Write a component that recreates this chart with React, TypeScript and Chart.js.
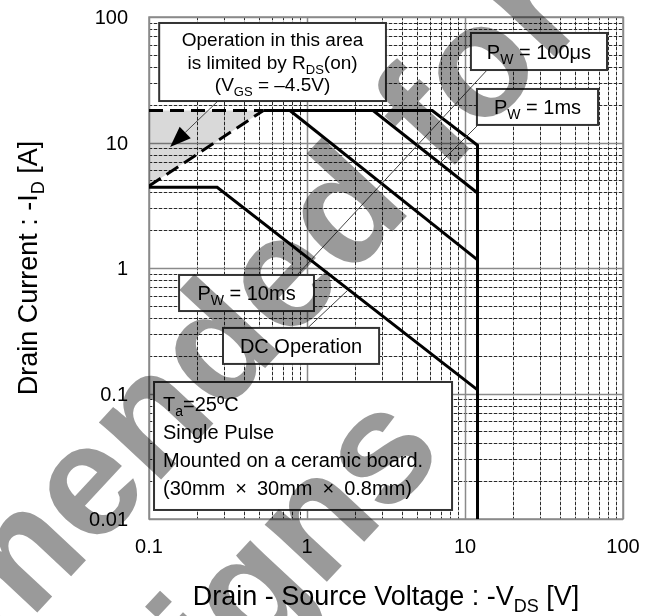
import React, { useEffect, useRef } from 'react';
import { Chart, registerables } from 'chart.js';

Chart.register(...registerables);

const FONT = "'Liberation Sans', Arial, Helvetica, sans-serif";

// ---- Data: drain-source voltage -VDS [V] vs drain current -ID [A] ----
const rdsLimitV = [0.1, 0.53];
const rdsLimitI = [4.5, 18];
const idPulseLimitV = [0.1, 0.53];
const idPulseLimitI = [18, 18];
const rdsAreaV = [0.1, 0.53, 0.1];
const rdsAreaI = [4.5, 18, 18];
const pw100usV = [0.53, 6.2, 12, 12];
const pw100usI = [18, 18, 9.5, 0.01];
const pw1msV = [2.62, 12];
const pw1msI = [18, 3.96];
const pw10msV = [0.78, 12];
const pw10msI = [18, 1.16];
const dcV = [0.1, 0.27, 12];
const dcI = [4.4, 4.4, 0.107];

const xTickValues = [0.1, 1, 10, 100];
const xTickLabels = ['0.1', '1', '10', '100'];
const yTickValues = [0.01, 0.1, 1, 10, 100];
const yTickLabels = ['0.01', '0.1', '1', '10', '100'];
const minorSteps = [2, 3, 4, 5, 6, 7, 8, 9];

type Part = { t: string; sub?: boolean };

// annotation boxes, anchored in data units (V range, A range)
const noteBoxes: { v: number[]; i: number[]; size: number; align: 'left' | 'center'; gap: number; lines: Part[][] }[] = [
  {
    v: [0.116, 3.16], i: [21.4, 89.6], size: 19, align: 'center', gap: 22.5,
    lines: [
      [{ t: 'Operation in this area' }],
      [{ t: 'is limited by R' }, { t: 'DS', sub: true }, { t: '(on)' }],
      [{ t: '(V' }, { t: 'GS', sub: true }, { t: ' = \u20134.5V)' }],
    ],
  },
  { v: [10.9, 79.2], i: [37.8, 74.6], size: 20, align: 'center', gap: 0, lines: [[{ t: 'P' }, { t: 'W', sub: true }, { t: ' = 100\u03bcs' }]] },
  { v: [11.9, 69.5], i: [13.8, 26.7], size: 20, align: 'center', gap: 0, lines: [[{ t: 'P' }, { t: 'W', sub: true }, { t: ' = 1ms' }]] },
  { v: [0.155, 1.107], i: [0.454, 0.88], size: 20, align: 'center', gap: 0, lines: [[{ t: 'P' }, { t: 'W', sub: true }, { t: ' = 10ms' }]] },
  { v: [0.294, 2.86], i: [0.172, 0.333], size: 20, align: 'center', gap: 0, lines: [[{ t: 'DC Operation' }]] },
  {
    v: [0.1076, 8.28], i: [0.0118, 0.1235], size: 20, align: 'left', gap: 28,
    lines: [
      [{ t: 'T' }, { t: 'a', sub: true }, { t: '=25\u00baC' }],
      [{ t: 'Single Pulse' }],
      [{ t: 'Mounted on a ceramic board.' }],
      [{ t: '(30mm\u2002\u00d7\u200230mm\u2002\u00d7\u20020.8mm)' }],
    ],
  },
];

const leaders: { from: number[]; to: number[]; arrow?: boolean }[] = [
  { from: [0.273, 21.4], to: [0.136, 9.2], arrow: true },
  { from: [0.865, 0.88], to: [13.8, 37.8] },
  { from: [6.75, 6.62], to: [12.1, 13.8] },
  { from: [1.01, 0.333], to: [1.8, 0.66] },
];

const xTitle: Part[] = [{ t: 'Drain - Source Voltage : -V' }, { t: 'DS', sub: true }, { t: ' [V]' }];
const yTitle: Part[] = [{ t: 'Drain Current : -I' }, { t: 'D', sub: true }, { t: ' [A]' }];
const watermarkLines = ['Not Recommended for', 'New Designs'];

const pts = (xs: number[], ys: number[]) => xs.map((x, k) => ({ x, y: ys[k] }));

function richWidth(ctx: CanvasRenderingContext2D, parts: Part[], size: number, sub: number) {
  let w = 0;
  for (const p of parts) {
    ctx.font = `${p.sub ? sub : size}px ${FONT}`;
    w += ctx.measureText(p.t).width;
  }
  return w;
}

function drawRich(ctx: CanvasRenderingContext2D, parts: Part[], x: number, base: number, align: string, size: number, sub: number) {
  const w = richWidth(ctx, parts, size, sub);
  let cx = align === 'center' ? x - w / 2 : align === 'right' ? x - w : x;
  ctx.textAlign = 'left';
  ctx.textBaseline = 'alphabetic';
  for (const p of parts) {
    ctx.font = `${p.sub ? sub : size}px ${FONT}`;
    ctx.fillText(p.t, cx, base + (p.sub ? size * 0.26 : 0));
    cx += ctx.measureText(p.t).width;
  }
}

const decor = {
  id: 'decor',
  beforeDraw(chart: any) {
    const { ctx, width, height } = chart;
    ctx.save();
    ctx.fillStyle = '#fff';
    ctx.fillRect(0, 0, width, height);
    ctx.restore();
  },
  beforeDatasetsDraw(chart: any) {
    const { ctx, chartArea: a, scales } = chart;
    const xs = scales.x, ys = scales.y;
    ctx.save();
    const vLine = (v: number) => {
      const p = Math.round(xs.getPixelForValue(v)) + 0.5;
      ctx.beginPath(); ctx.moveTo(p, a.top); ctx.lineTo(p, a.bottom); ctx.stroke();
    };
    const hLine = (v: number) => {
      const p = Math.round(ys.getPixelForValue(v)) + 0.5;
      ctx.beginPath(); ctx.moveTo(a.left, p); ctx.lineTo(a.right, p); ctx.stroke();
    };
    const minorX: number[] = [];
    xTickValues.slice(0, -1).forEach((d) => minorSteps.forEach((k) => minorX.push(d * k)));
    const minorY: number[] = [];
    yTickValues.slice(0, -1).forEach((d) => minorSteps.forEach((k) => minorY.push(d * k)));
    ctx.lineWidth = 1;
    ctx.strokeStyle = '#c4c4c4';
    minorX.forEach(vLine); minorY.forEach(hLine);
    ctx.setLineDash([3, 2]);
    ctx.strokeStyle = '#2a2a2a';
    minorX.forEach(vLine); minorY.forEach(hLine);
    ctx.setLineDash([]);
    ctx.strokeStyle = '#8a8a8a';
    ctx.lineWidth = 1.5;
    xTickValues.forEach(vLine); yTickValues.forEach(hLine);
    ctx.strokeRect(a.left, a.top, a.right - a.left, a.bottom - a.top);
    ctx.restore();
  },
  afterDatasetsDraw(chart: any) {
    const { ctx, scales } = chart;
    const xs = scales.x, ys = scales.y;
    ctx.save();
    // leader lines
    ctx.strokeStyle = '#444';
    ctx.fillStyle = '#000';
    ctx.lineWidth = 1;
    for (const l of leaders) {
      const x1 = xs.getPixelForValue(l.from[0]), y1 = ys.getPixelForValue(l.from[1]);
      const x2 = xs.getPixelForValue(l.to[0]), y2 = ys.getPixelForValue(l.to[1]);
      let ex = x2, ey = y2;
      if (l.arrow) {
        const len = Math.hypot(x2 - x1, y2 - y1);
        const ux = (x2 - x1) / len, uy = (y2 - y1) / len;
        const bx = x2 - ux * 21, by = y2 - uy * 21;
        ex = bx; ey = by;
        ctx.beginPath();
        ctx.moveTo(x2, y2);
        ctx.lineTo(bx - uy * 8, by + ux * 8);
        ctx.lineTo(bx + uy * 8, by - ux * 8);
        ctx.closePath();
        ctx.fill();
      }
      ctx.beginPath(); ctx.moveTo(x1, y1); ctx.lineTo(ex, ey); ctx.stroke();
    }
    // note boxes
    for (const b of noteBoxes) {
      const x1 = xs.getPixelForValue(b.v[0]), x2 = xs.getPixelForValue(b.v[1]);
      const y1 = ys.getPixelForValue(b.i[1]), y2 = ys.getPixelForValue(b.i[0]);
      ctx.fillStyle = '#fff';
      ctx.fillRect(x1, y1, x2 - x1, y2 - y1);
      ctx.strokeStyle = '#333';
      ctx.lineWidth = 2;
      ctx.strokeRect(x1, y1, x2 - x1, y2 - y1);
      ctx.fillStyle = '#000';
      const n = b.lines.length;
      const cy = (y1 + y2) / 2;
      b.lines.forEach((ln, k) => {
        const mid = cy + (k - (n - 1) / 2) * b.gap;
        const tx = b.align === 'left' ? x1 + 9 : (x1 + x2) / 2;
        drawRich(ctx, ln, tx, mid + b.size * 0.36, b.align, b.size, Math.round(b.size * 0.68));
      });
    }
    ctx.restore();
  },
  afterDraw(chart: any) {
    const { ctx, chartArea: a, scales } = chart;
    const xs = scales.x, ys = scales.y;
    ctx.save();
    ctx.fillStyle = '#000';
    ctx.font = `20px ${FONT}`;
    ctx.textBaseline = 'alphabetic';
    ctx.textAlign = 'center';
    xTickValues.forEach((v, k) => ctx.fillText(xTickLabels[k], xs.getPixelForValue(v), a.bottom + 34));
    ctx.textAlign = 'right';
    yTickValues.forEach((v, k) => ctx.fillText(yTickLabels[k], a.left - 21, ys.getPixelForValue(v) + 7));
    drawRich(ctx, xTitle, (a.left + a.right) / 2, a.bottom + 86, 'center', 27, 18);
    ctx.translate(37, (a.top + a.bottom) / 2);
    ctx.rotate(-Math.PI / 2);
    drawRich(ctx, yTitle, 0, 0, 'center', 27, 18);
    ctx.restore();

    // watermark
    ctx.save();
    ctx.globalCompositeOperation = 'multiply';
    ctx.fillStyle = '#9a9a9a';
    ctx.rotate((-47 * Math.PI) / 180);
    ctx.font = `bold 160px ${FONT}`;
    ctx.textAlign = 'center';
    ctx.textBaseline = 'alphabetic';
    ctx.fillText(watermarkLines[0], -470, 445);
    ctx.fillText(watermarkLines[1], -525, 636);
    ctx.restore();
  },
};

export default function App() {
  const ref = useRef<HTMLCanvasElement | null>(null);
  useEffect(() => {
    if (!ref.current) return;
    const line = (label: string, data: any, dash: number[] = []) => ({
      label, data, showLine: true, fill: false, borderColor: '#000', borderWidth: 3,
      borderDash: dash, pointRadius: 0, tension: 0, borderJoinStyle: 'miter', borderCapStyle: 'butt',
    });
    const chart = new Chart(ref.current, {
      type: 'scatter',
      data: {
        datasets: [
          line('R_DS(on) limit', pts(rdsLimitV, rdsLimitI), [14, 7]),
          line('I_D pulse limit', pts(idPulseLimitV, idPulseLimitI), [14, 7]),
          line('PW = 100us', pts(pw100usV, pw100usI)),
          line('PW = 1ms', pts(pw1msV, pw1msI)),
          line('PW = 10ms', pts(pw10msV, pw10msI)),
          line('DC Operation', pts(dcV, dcI)),
          {
            label: 'R_DS(on) area', data: pts(rdsAreaV, rdsAreaI), showLine: true, fill: 'shape',
            backgroundColor: 'rgba(0,0,0,0.15)', borderColor: 'rgba(0,0,0,0)', borderWidth: 0, pointRadius: 0,
          },
        ] as any,
      },
      options: {
        animation: false,
        responsive: false,
        events: [],
        layout: { padding: { left: 149, right: 33, top: 17, bottom: 97 } },
        plugins: { legend: { display: false }, tooltip: { enabled: false } },
        scales: {
          x: { type: 'logarithmic', min: 0.1, max: 100, display: false },
          y: { type: 'logarithmic', min: 0.01, max: 100, display: false },
        },
      } as any,
      plugins: [decor],
    });
    return () => chart.destroy();
  }, []);
  return (
    <div style={{ position: 'absolute', left: 0, top: 0, width: 656, height: 616, background: '#fff' }}>
      <canvas ref={ref} width={656} height={616} style={{ width: 656, height: 616, display: 'block' }} />
    </div>
  );
}
